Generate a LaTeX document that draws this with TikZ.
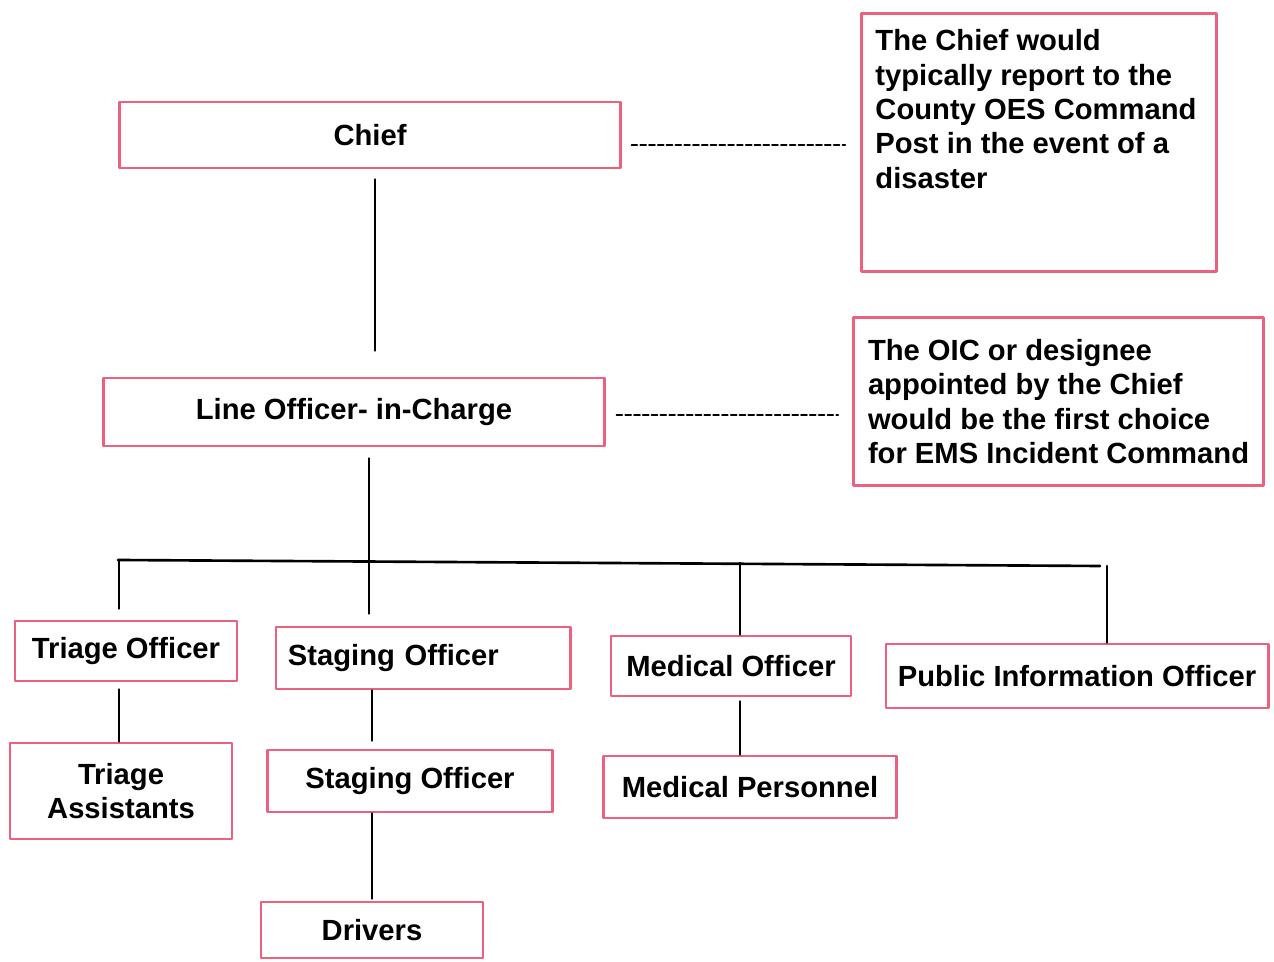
\documentclass[tikz,border=0pt]{standalone}
\usepackage{fontspec}
\setmainfont{Liberation Sans}
\definecolor{boxpink}{RGB}{238,96,128}
\begin{document}
\begin{tikzpicture}[x=0.01cm, y=-0.01cm, font=\fontsize{8.3}{9.8}\selectfont\bfseries, line join=round, line cap=round,
	box/.style={draw=boxpink, line width=0.8pt, inner sep=0.1cm, align=center},
	note/.style={draw=boxpink, line width=0.8pt, inner xsep=0.14cm, inner ysep=0.12cm, align=left},
	link/.style={line width=0.75pt},
	dashlink/.style={line width=0.6pt, dash pattern=on 1.6pt off 0.9pt}]
		\useasboundingbox (0,0) rectangle (1274,962);
		% command boxes and notes
		\node[box, minimum width=5cm, minimum height=0.66cm] (chief) at (370,135) {Chief};
		\node[box, minimum width=5cm, minimum height=0.68cm] (loic) at (354,412) {Line Officer- in-Charge};
		\node[note, anchor=north west, inner ysep=0.16cm] (note1) at (860,12) {\parbox[t][2.26cm][t]{3.27cm}{The Chief would\\typically report to the\\County OES Command\\Post in the event of a\\disaster}};
		\node[note, anchor=north west, minimum width=4.1cm, minimum height=1.68cm] (note2) at (852,316) {The OIC or designee\\appointed by the Chief\\would be the first choice\\for EMS Incident Command};
		% officers
		\node[box, minimum width=2.22cm, minimum height=0.6cm] (triage) at (126,651) {Triage Officer};
		\node[box, text width=2.7cm, align=left, inner xsep=0.12cm, minimum height=0.62cm] (staging) at (423,658) {Staging Officer};
		\node[box, minimum width=2.4cm, minimum height=0.6cm] (medical) at (731,666) {Medical Officer};
		\node[box, minimum width=3.82cm, minimum height=0.64cm] (pio) at (1077,676) {Public Information Officer};
		% crews
		\node[box, minimum width=2.22cm, minimum height=0.96cm] (assist) at (121,791) {Triage\\Assistants};
		\node[box, minimum width=2.85cm, minimum height=0.62cm] (staging2) at (410,781) {Staging Officer};
		\node[box, minimum width=2.93cm, minimum height=0.62cm] (medpers) at (750,787) {Medical Personnel};
		\node[box, minimum width=2.22cm, minimum height=0.56cm] (drivers) at (372,930) {Drivers};
		% bar and drops
		\coordinate (barL) at (118,560);
		\coordinate (barR) at (1100,566);
		\coordinate (dA) at (119,560);
		\coordinate (dB) at (740,563);
		\coordinate (dC) at (1107,566);
		\coordinate (trunk) at (369,0);
		\coordinate (top) at (375,0);
		\draw[link] (barL)--(barR);
		\draw[link, shorten <=0.1cm, shorten >=0.26cm] (top |- chief.south)--(top |- loic.north);
		\draw[link, shorten <=0.11cm, shorten >=0.12cm] (trunk |- loic.south)--(trunk |- staging.north);
		\draw[link, shorten >=0.11cm] (dA)--(dA |- triage.north);
		\draw[link] (dB)--(dB |- medical.north);
		\draw[link] (dC)--(dC |- pio.north);
		\draw[link, shorten <=0.07cm] (dA |- triage.south)--(dA |- assist.north);
		\draw[link, shorten >=0.08cm] (drivers.north |- staging.south)--(drivers.north |- staging2.north);
		\draw[link, shorten >=0.02cm] (drivers.north |- staging2.south)--(drivers.north);
		\draw[link, shorten <=0.04cm] (dB |- medical.south)--(dB |- medpers.north);
		% dashed links to the notes
		\draw[dashlink, shorten <=0.1cm, shorten >=0.15cm] ([yshift=-0.1cm]chief.east)--([yshift=-0.1cm]chief.east -| note1.west);
		\draw[dashlink, shorten <=0.11cm, shorten >=0.14cm] ([yshift=-0.03cm]loic.east)--([yshift=-0.03cm]loic.east -| note2.west);
\end{tikzpicture}
\end{document}
